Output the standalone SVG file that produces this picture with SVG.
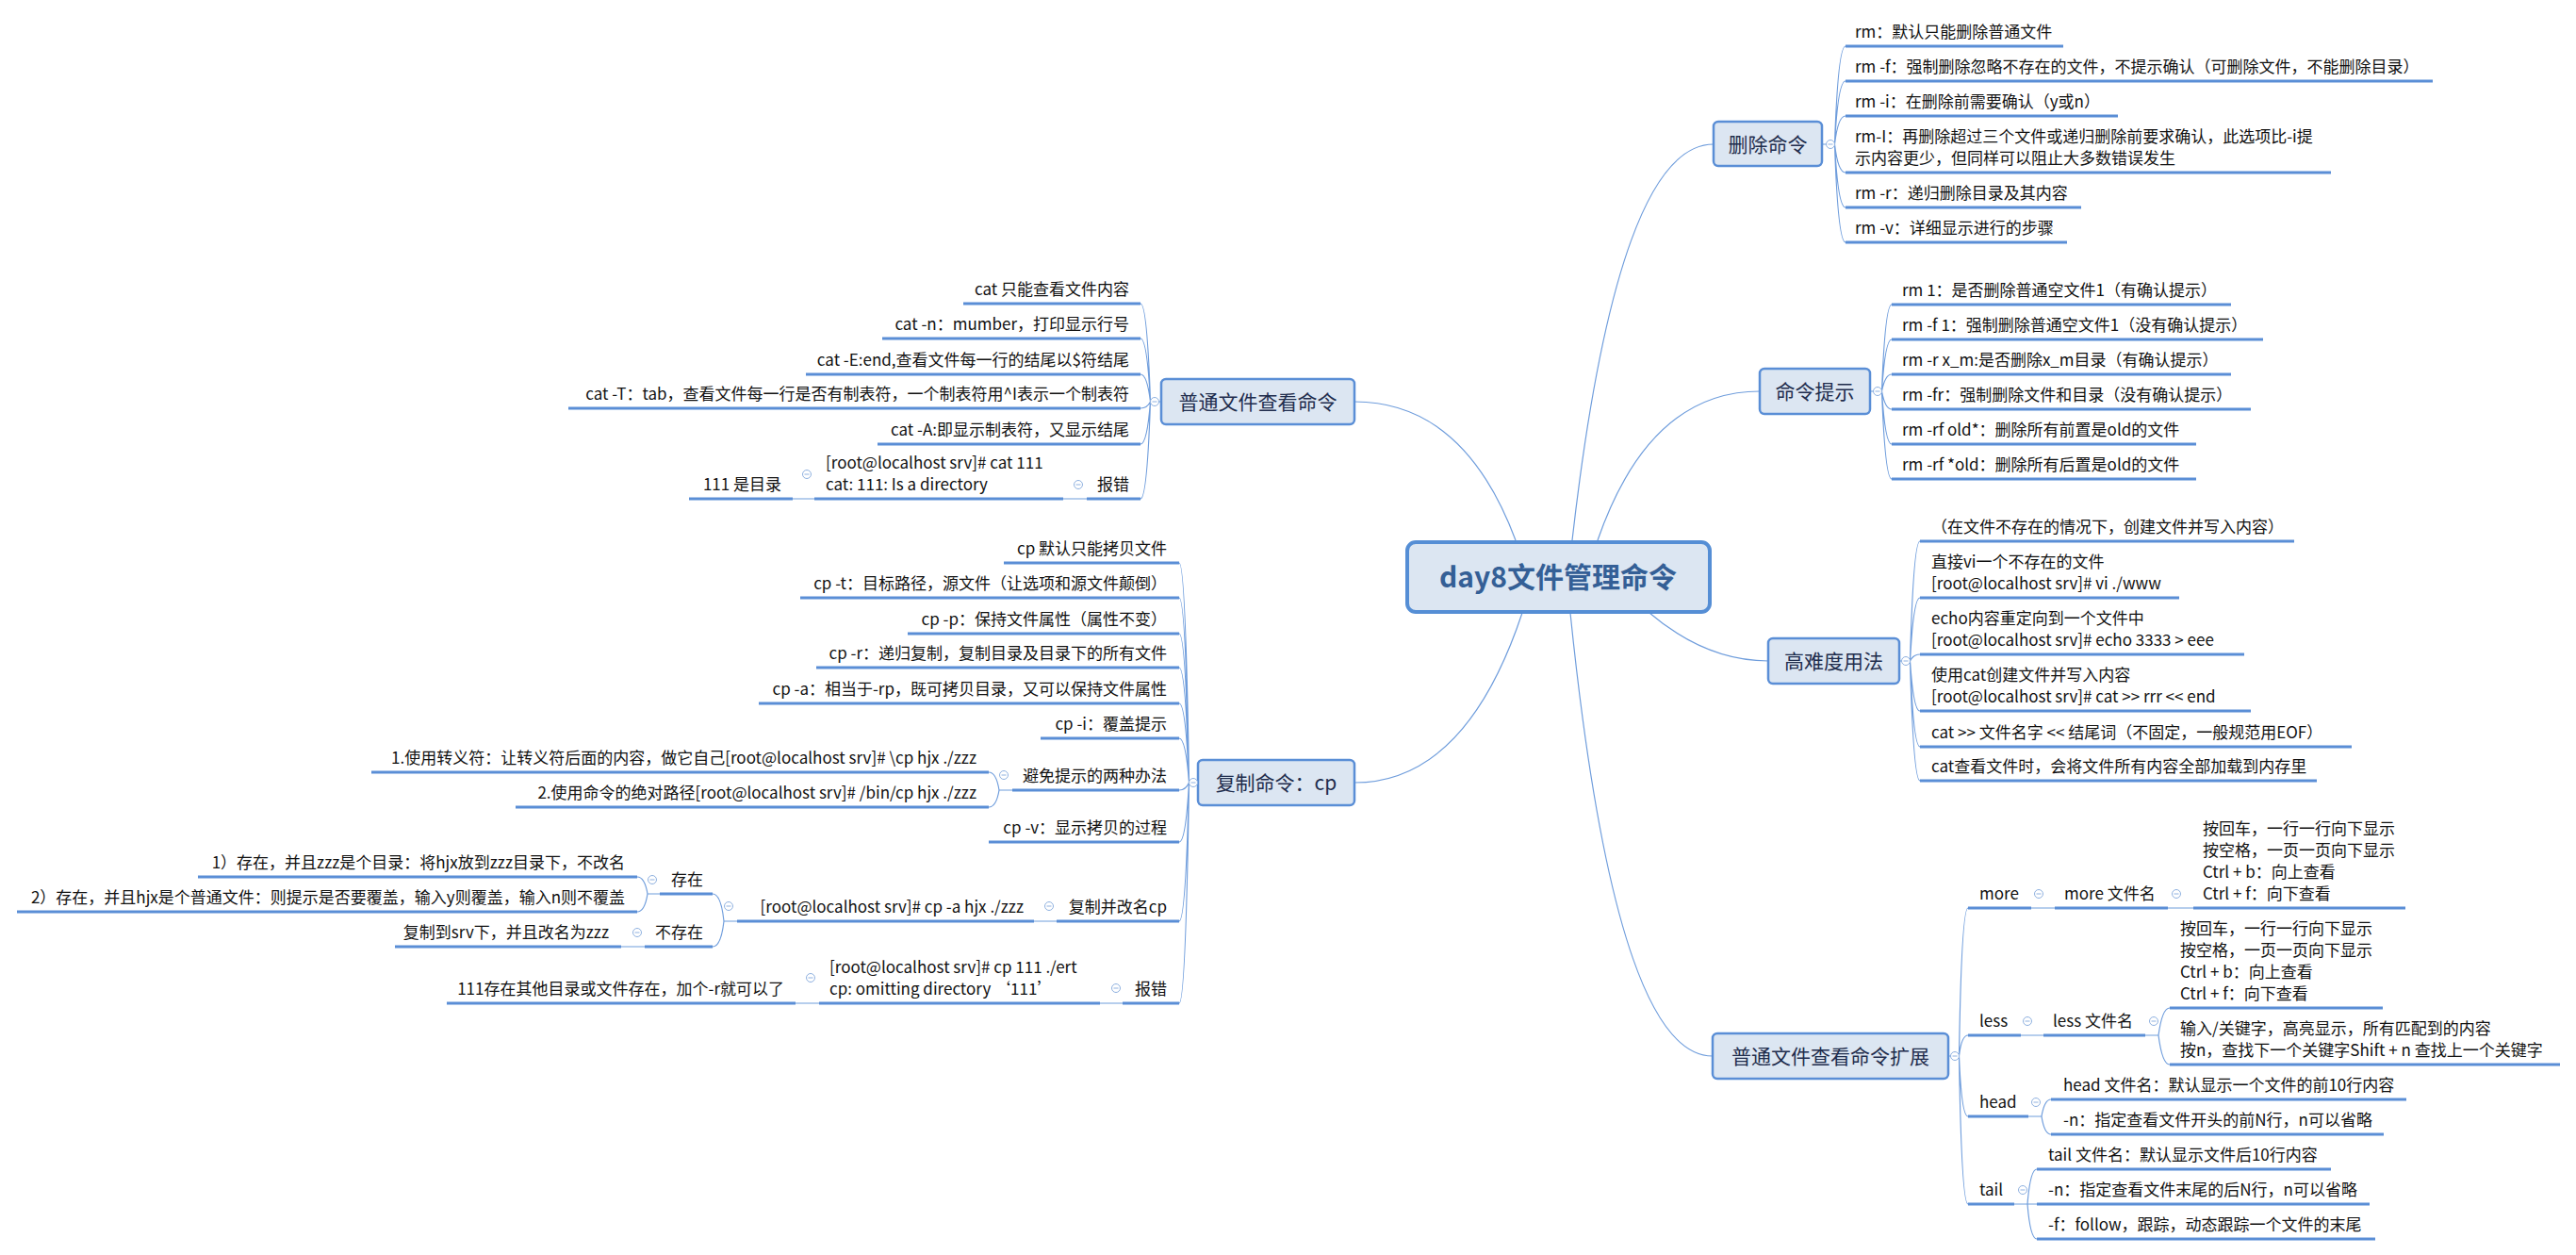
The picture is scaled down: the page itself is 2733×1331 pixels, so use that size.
<svg xmlns="http://www.w3.org/2000/svg" xmlns:xlink="http://www.w3.org/1999/xlink" width="2733" height="1331" viewBox="0 0 2733 1331">
<style>
text{font-family:"Noto Sans CJK SC","Noto Sans",sans-serif}
.l{font-size:17px;fill:#111}
.s{font-size:21px;fill:#1f2d4d;text-anchor:middle}
.r{font-size:30px;font-weight:bold;fill:#345f96;text-anchor:middle}
.e{text-anchor:end}
.u{stroke:#5a8ed6;stroke-width:3;fill:none}
.c{stroke:#6f9ddc;stroke-width:1.2;fill:none}
.b{fill:#dce6f2;stroke:#5a8ed6;stroke-width:2.5}
</style>
<defs>
<g id="m"><circle r="4.5" fill="#fff" stroke="#8fb1e0" stroke-width="1"/><path d="M-2.5,0H2.5" stroke="#8fb1e0" stroke-width="1"/></g>
</defs>
<rect width="2733" height="1331" fill="#fff"/>
<g id="connectors">
<path class="c" d="M1608,573Q1553,426 1437,426"/>
<path class="c" d="M1668,573Q1716,153 1818,153"/>
<path class="c" d="M1695,573Q1750,415 1867,415"/>
<path class="c" d="M1615,650Q1555,830 1437,830"/>
<path class="c" d="M1666,650Q1714,1120 1817,1120"/>
<path class="c" d="M1750,650Q1810,701 1876,701"/>
<!-- 删除命令 -->
<path class="c" d="M1933,153H1938M1946.5,153Q1950,49 1958,49M1946.5,153Q1950,86 1958,86M1946.5,153Q1950,123 1958,123M1946.5,153Q1950,183 1958,183M1946.5,153Q1950,220 1958,220M1946.5,153Q1950,257 1958,257"/>
<!-- 命令提示 -->
<path class="c" d="M1984,415H1988M1996.5,415Q2000,323 2007,323M1996.5,415Q2000,360 2007,360M1996.5,415Q2000,397 2007,397M1996.5,415Q2000,434 2007,434M1996.5,415Q2000,471 2007,471M1996.5,415Q2000,508 2007,508"/>
<!-- 高难度用法 -->
<path class="c" d="M2015,701H2018M2026.5,701Q2030,574 2037,574M2026.5,701Q2030,634 2037,634M2026.5,701Q2030,694 2037,694M2026.5,701Q2030,754 2037,754M2026.5,701Q2030,792 2037,792M2026.5,701Q2030,828 2037,828"/>
<!-- 扩展 -->
<path class="c" d="M2067,1120H2070M2078.5,1120Q2081,963 2088,963M2078.5,1120Q2081,1098 2088,1098M2078.5,1120Q2081,1184 2088,1184M2078.5,1120Q2081,1277 2088,1277"/>
<path class="c" d="M2155,963H2180M2300,963H2327M2144,1098H2168M2276,1098H2290M2290,1098Q2294,1069 2302,1069M2290,1098Q2294,1129 2302,1129M2152,1184H2166M2166,1184Q2169,1166 2176,1166M2166,1184Q2169,1203 2176,1203M2137,1277H2161M2151,1277Q2154,1240 2161,1240M2151,1277Q2154,1314 2161,1314"/>
<!-- 普通文件查看命令 -->
<path class="c" d="M1232,426H1229M1220.5,426Q1217,322 1210,322M1220.5,426Q1217,359 1210,359M1220.5,426Q1217,397 1210,397M1220.5,426Q1217,433 1210,433M1220.5,426Q1217,471 1210,471M1220.5,426Q1217,529 1210,529"/>
<path class="c" d="M1153,529H1128M864,529H841"/>
<!-- 复制命令 -->
<path class="c" d="M1261.5,830Q1258,597 1251,597M1261.5,830Q1258,634 1251,634M1261.5,830Q1258,672 1251,672M1261.5,830Q1258,708 1251,708M1261.5,830Q1258,746 1251,746M1261.5,830Q1258,783 1251,783M1261.5,830Q1258,838 1251,838M1261.5,830Q1258,893 1251,893M1261.5,830Q1258,977 1251,977M1261.5,830Q1258,1064 1251,1064"/>
<path class="c" d="M1074,838H1060M1060,838Q1057,819 1049,819M1060,838Q1057,856 1049,856"/>
<path class="c" d="M1121,977H1097M782,977H768M768,977Q765,948 756,948M768,977Q765,1004 756,1004"/>
<path class="c" d="M700,948H687M687,948Q684,930 676,930M687,948Q684,967 676,967M684,1004H659"/>
<path class="c" d="M1191,1064H1167M869,1064H844"/>
</g>

<g id="root">
<rect x="1493" y="575" width="321" height="74" rx="9" fill="#dce6f2" stroke="#558ed5" stroke-width="4"/>
<text class="r" x="1653" y="623">day8文件管理命令</text>
</g>

<!-- right: 删除命令 -->
<g id="n-delete">
<rect class="b" x="1818" y="129" width="115" height="47" rx="5"/>
<text class="s" x="1875.5" y="160.5">删除命令</text>
<use xlink:href="#m" x="1942" y="153"/>
</g>
<g id="n-delete-1"><path class="u" d="M1958,49H2189"/><text class="l" x="1968" y="40">rm：默认只能删除普通文件</text></g>
<g id="n-delete-2"><path class="u" d="M1958,86H2581"/><text class="l" x="1968" y="77">rm -f：强制删除忽略不存在的文件，不提示确认（可删除文件，不能删除目录）</text></g>
<g id="n-delete-3"><path class="u" d="M1958,123H2247"/><text class="l" x="1968" y="114">rm -i：在删除前需要确认（y或n）</text></g>
<g id="n-delete-4"><path class="u" d="M1958,183H2473"/><text class="l" x="1968" y="151">rm-I：再删除超过三个文件或递归删除前要求确认，此选项比-i提<tspan x="1968" dy="23">示内容更少，但同样可以阻止大多数错误发生</tspan></text></g>
<g id="n-delete-5"><path class="u" d="M1958,220H2208"/><text class="l" x="1968" y="211">rm -r：递归删除目录及其内容</text></g>
<g id="n-delete-6"><path class="u" d="M1958,257H2193"/><text class="l" x="1968" y="248">rm -v：详细显示进行的步骤</text></g>

<!-- right: 命令提示 -->
<g id="n-hint">
<rect class="b" x="1867" y="391" width="117" height="48" rx="5"/>
<text class="s" x="1925.5" y="423">命令提示</text>
<use xlink:href="#m" x="1992" y="415"/>
</g>
<g id="n-hint-1"><path class="u" d="M2007,323H2367"/><text class="l" x="2018" y="314">rm 1：是否删除普通空文件1（有确认提示）</text></g>
<g id="n-hint-2"><path class="u" d="M2007,360H2401"/><text class="l" x="2018" y="351">rm -f 1：强制删除普通空文件1（没有确认提示）</text></g>
<g id="n-hint-3"><path class="u" d="M2007,397H2367"/><text class="l" x="2018" y="388">rm -r x_m:是否删除x_m目录（有确认提示）</text></g>
<g id="n-hint-4"><path class="u" d="M2007,434H2388"/><text class="l" x="2018" y="425">rm -fr：强制删除文件和目录（没有确认提示）</text></g>
<g id="n-hint-5"><path class="u" d="M2007,471H2330"/><text class="l" x="2018" y="462">rm -rf old*：删除所有前置是old的文件</text></g>
<g id="n-hint-6"><path class="u" d="M2007,508H2330"/><text class="l" x="2018" y="499">rm -rf *old：删除所有后置是old的文件</text></g>

<!-- right: 高难度用法 -->
<g id="n-adv">
<rect class="b" x="1876" y="677" width="139" height="48" rx="5"/>
<text class="s" x="1945.5" y="709">高难度用法</text>
<use xlink:href="#m" x="2022" y="701"/>
</g>
<g id="n-adv-1"><path class="u" d="M2037,574H2434"/><text class="l" x="2049" y="565">（在文件不存在的情况下，创建文件并写入内容）</text></g>
<g id="n-adv-2"><path class="u" d="M2037,634H2312"/><text class="l" x="2049" y="602">直接vi一个不存在的文件<tspan x="2049" dy="23">[root@localhost srv]# vi ./www</tspan></text></g>
<g id="n-adv-3"><path class="u" d="M2037,694H2381"/><text class="l" x="2049" y="662">echo内容重定向到一个文件中<tspan x="2049" dy="23">[root@localhost srv]# echo 3333 &gt; eee</tspan></text></g>
<g id="n-adv-4"><path class="u" d="M2037,754H2388"/><text class="l" x="2049" y="722">使用cat创建文件并写入内容<tspan x="2049" dy="23">[root@localhost srv]# cat &gt;&gt; rrr &lt;&lt; end</tspan></text></g>
<g id="n-adv-5"><path class="u" d="M2037,792H2495"/><text class="l" x="2049" y="783">cat &gt;&gt; 文件名字 &lt;&lt; 结尾词（不固定，一般规范用EOF）</text></g>
<g id="n-adv-6"><path class="u" d="M2037,828H2458"/><text class="l" x="2049" y="819">cat查看文件时，会将文件所有内容全部加载到内存里</text></g>

<!-- right: 普通文件查看命令扩展 -->
<g id="n-ext">
<rect class="b" x="1817" y="1096" width="250" height="48" rx="5"/>
<text class="s" x="1942" y="1128">普通文件查看命令扩展</text>
<use xlink:href="#m" x="2074" y="1120"/>
</g>
<g id="n-more"><path class="u" d="M2088,963H2155"/><text class="l" x="2100" y="954">more</text><use xlink:href="#m" x="2163" y="948"/></g>
<g id="n-more-f"><path class="u" d="M2180,963H2300"/><text class="l" x="2190" y="954">more 文件名</text><use xlink:href="#m" x="2309" y="948"/></g>
<g id="n-more-d"><path class="u" d="M2327,963H2552"/><text class="l" x="2337" y="885">按回车，一行一行向下显示<tspan x="2337" dy="23">按空格，一页一页向下显示</tspan><tspan x="2337" dy="23">Ctrl + b：向上查看</tspan><tspan x="2337" dy="23">Ctrl + f：向下查看</tspan></text></g>
<g id="n-less"><path class="u" d="M2088,1098H2144"/><text class="l" x="2100" y="1089">less</text><use xlink:href="#m" x="2151" y="1083"/></g>
<g id="n-less-f"><path class="u" d="M2168,1098H2276"/><text class="l" x="2178" y="1089">less 文件名</text><use xlink:href="#m" x="2285" y="1083"/></g>
<g id="n-less-d1"><path class="u" d="M2302,1069H2528"/><text class="l" x="2313" y="991">按回车，一行一行向下显示<tspan x="2313" dy="23">按空格，一页一页向下显示</tspan><tspan x="2313" dy="23">Ctrl + b：向上查看</tspan><tspan x="2313" dy="23">Ctrl + f：向下查看</tspan></text></g>
<g id="n-less-d2"><path class="u" d="M2302,1129H2716"/><text class="l" x="2313" y="1097">输入/关键字，高亮显示，所有匹配到的内容<tspan x="2313" dy="23">按n，查找下一个关键字Shift + n 查找上一个关键字</tspan></text></g>
<g id="n-head"><path class="u" d="M2088,1184H2152"/><text class="l" x="2100" y="1175">head</text><use xlink:href="#m" x="2160" y="1169"/></g>
<g id="n-head-1"><path class="u" d="M2176,1166H2553"/><text class="l" x="2189" y="1157">head 文件名：默认显示一个文件的前10行内容</text></g>
<g id="n-head-2"><path class="u" d="M2176,1203H2529"/><text class="l" x="2189" y="1194">-n：指定查看文件开头的前N行，n可以省略</text></g>
<g id="n-tail"><path class="u" d="M2088,1277H2137"/><text class="l" x="2100" y="1268">tail</text><use xlink:href="#m" x="2146" y="1262"/></g>
<g id="n-tail-1"><path class="u" d="M2161,1240H2473"/><text class="l" x="2173" y="1231">tail 文件名：默认显示文件后10行内容</text></g>
<g id="n-tail-2"><path class="u" d="M2161,1277H2514"/><text class="l" x="2173" y="1268">-n：指定查看文件末尾的后N行，n可以省略</text></g>
<g id="n-tail-3"><path class="u" d="M2161,1314H2520"/><text class="l" x="2173" y="1305">-f：follow，跟踪，动态跟踪一个文件的末尾</text></g>

<!-- left: 普通文件查看命令 -->
<g id="n-cat">
<rect class="b" x="1232" y="402" width="205" height="48" rx="5"/>
<text class="s" x="1334.5" y="434">普通文件查看命令</text>
<use xlink:href="#m" x="1225" y="426"/>
</g>
<g id="n-cat-1"><path class="u" d="M1022,322H1210"/><text class="l e" x="1198" y="313">cat 只能查看文件内容</text></g>
<g id="n-cat-2"><path class="u" d="M936,359H1210"/><text class="l e" x="1198" y="350">cat -n：mumber，打印显示行号</text></g>
<g id="n-cat-3"><path class="u" d="M855,397H1210"/><text class="l e" x="1198" y="388">cat -E:end,查看文件每一行的结尾以$符结尾</text></g>
<g id="n-cat-4"><path class="u" d="M603,433H1210"/><text class="l e" x="1198" y="424">cat -T：tab，查看文件每一行是否有制表符，一个制表符用^I表示一个制表符</text></g>
<g id="n-cat-5"><path class="u" d="M931,471H1210"/><text class="l e" x="1198" y="462">cat -A:即显示制表符，又显示结尾</text></g>
<g id="n-cat-err"><path class="u" d="M1153,529H1210"/><text class="l e" x="1198" y="520">报错</text><use xlink:href="#m" x="1144" y="514"/></g>
<g id="n-cat-err-1"><path class="u" d="M864,529H1128"/><text class="l" x="876" y="497">[root@localhost srv]# cat 111<tspan x="876" dy="23">cat: 111: Is a directory</tspan></text><use xlink:href="#m" x="856" y="503"/></g>
<g id="n-cat-err-2"><path class="u" d="M731,529H841"/><text class="l e" x="829" y="520">111 是目录</text></g>

<!-- left: 复制命令 -->
<g id="n-cp">
<rect class="b" x="1271" y="806" width="166" height="48" rx="5"/>
<text class="s" x="1354" y="838">复制命令：cp</text>
<use xlink:href="#m" x="1266" y="830"/>
</g>
<g id="n-cp-1"><path class="u" d="M1065,597H1251"/><text class="l e" x="1238" y="588">cp 默认只能拷贝文件</text></g>
<g id="n-cp-2"><path class="u" d="M849,634H1251"/><text class="l e" x="1238" y="625">cp -t：目标路径，源文件（让选项和源文件颠倒）</text></g>
<g id="n-cp-3"><path class="u" d="M963,672H1251"/><text class="l e" x="1238" y="663">cp -p：保持文件属性（属性不变）</text></g>
<g id="n-cp-4"><path class="u" d="M866,708H1251"/><text class="l e" x="1238" y="699">cp -r：递归复制，复制目录及目录下的所有文件</text></g>
<g id="n-cp-5"><path class="u" d="M805,746H1251"/><text class="l e" x="1238" y="737">cp -a：相当于-rp，既可拷贝目录，又可以保持文件属性</text></g>
<g id="n-cp-6"><path class="u" d="M1104,783H1251"/><text class="l e" x="1238" y="774">cp -i：覆盖提示</text></g>
<g id="n-cp-7"><path class="u" d="M1074,838H1251"/><text class="l e" x="1238" y="829">避免提示的两种办法</text><use xlink:href="#m" x="1065" y="822"/></g>
<g id="n-cp-7a"><path class="u" d="M394,819H1049"/><text class="l e" x="1036" y="810">1.使用转义符：让转义符后面的内容，做它自己[root@localhost srv]# \cp hjx ./zzz</text></g>
<g id="n-cp-7b"><path class="u" d="M547,856H1049"/><text class="l e" x="1036" y="847">2.使用命令的绝对路径[root@localhost srv]# /bin/cp hjx ./zzz</text></g>
<g id="n-cp-8"><path class="u" d="M1049,893H1251"/><text class="l e" x="1238" y="884">cp -v：显示拷贝的过程</text></g>
<g id="n-cp-9"><path class="u" d="M1121,977H1251"/><text class="l e" x="1238" y="968">复制并改名cp</text><use xlink:href="#m" x="1113" y="961"/></g>
<g id="n-cp-9a"><path class="u" d="M782,977H1097"/><text class="l e" x="1086" y="968">[root@localhost srv]# cp -a hjx ./zzz</text><use xlink:href="#m" x="773" y="961"/></g>
<g id="n-exist"><path class="u" d="M700,948H756"/><text class="l e" x="746" y="939">存在</text><use xlink:href="#m" x="692" y="933"/></g>
<g id="n-exist-1"><path class="u" d="M210,930H676"/><text class="l e" x="663" y="921">1）存在，并且zzz是个目录：将hjx放到zzz目录下，不改名</text></g>
<g id="n-exist-2"><path class="u" d="M18,967H676"/><text class="l e" x="663" y="958">2）存在，并且hjx是个普通文件：则提示是否要覆盖，输入y则覆盖，输入n则不覆盖</text></g>
<g id="n-noexist"><path class="u" d="M684,1004H756"/><text class="l e" x="746" y="995">不存在</text><use xlink:href="#m" x="676" y="989"/></g>
<g id="n-noexist-1"><path class="u" d="M419,1004H659"/><text class="l e" x="646" y="995">复制到srv下，并且改名为zzz</text></g>
<g id="n-cp-err"><path class="u" d="M1191,1064H1251"/><text class="l e" x="1238" y="1055">报错</text><use xlink:href="#m" x="1184" y="1048"/></g>
<g id="n-cp-err-1"><path class="u" d="M869,1064H1167"/><text class="l" x="880" y="1032">[root@localhost srv]# cp 111 ./ert<tspan x="880" dy="23">cp: omitting directory ‘111’</tspan></text><use xlink:href="#m" x="860" y="1037"/></g>
<g id="n-cp-err-2"><path class="u" d="M474,1064H844"/><text class="l e" x="832" y="1055">111存在其他目录或文件存在，加个-r就可以了</text></g>
</svg>
